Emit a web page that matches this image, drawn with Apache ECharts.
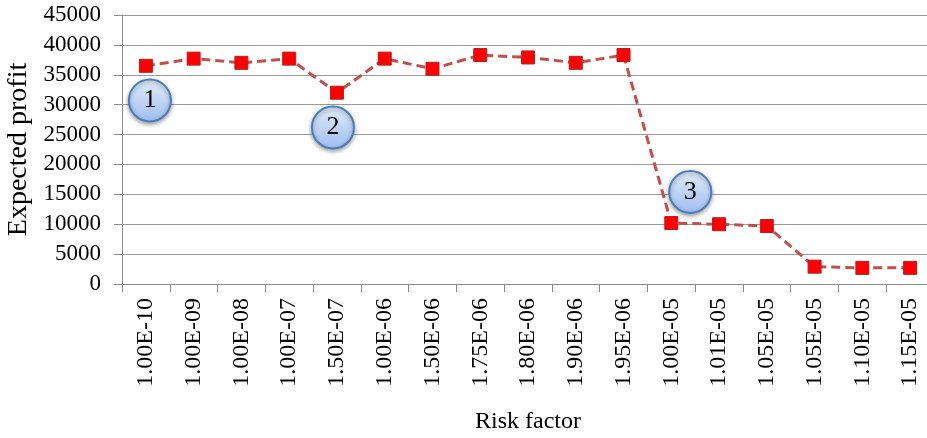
<!DOCTYPE html>
<html>
<head>
<meta charset="utf-8">
<script src="https://cdn.jsdelivr.net/npm/echarts@6/dist/echarts.min.js"></script>
<style>
  html, body { margin: 0; padding: 0; background: #fff; }
  #chart { width: 927px; height: 438px; }
</style>
</head>
<body>
<div id="chart"></div>
<script>
const riskFactors = ['1.00E-10', '1.00E-09', '1.00E-08', '1.00E-07', '1.50E-07', '1.00E-06', '1.50E-06', '1.75E-06',
  '1.80E-06', '1.90E-06', '1.95E-06', '1.00E-05', '1.01E-05', '1.05E-05', '1.05E-05', '1.10E-05', '1.15E-05'];
const expectedProfit = [36500, 37700, 37000, 37700, 32000, 37700, 36000, 38300,
  37900, 37000, 38300, 10200, 10000, 9700, 2900, 2700, 2700];
const yTicks = { min: 0, max: 45000, interval: 5000 };
// callouts: [category index, value, label]
const callouts = [[0, 30700, '1'], [4, 26200, '2'], [11, 15400, '3']];
const calloutShift = [4, -4, 19];

const serif = '"Liberation Serif", "Times New Roman", serif';
const chart = echarts.init(document.getElementById('chart'));

chart.setOption({
  backgroundColor: '#fff',
  animation: false,
  grid: { left: 122, right: -7, top: 15, bottom: 154, outerBoundsMode: 'none', containLabel: false },
  xAxis: {
    type: 'category',
    data: riskFactors,
    name: 'Risk factor',
    nameLocation: 'middle',
    nameGap: 126,
    nameTextStyle: { fontFamily: serif, fontSize: 24, color: '#000' },
    axisLine: { lineStyle: { color: '#8c8c8c', width: 1 } },
    axisTick: { show: true, length: 8, lineStyle: { color: '#8c8c8c' } },
    axisLabel: { rotate: 90, margin: 14, fontFamily: serif, fontSize: 24, color: '#000' }
  },
  yAxis: {
    type: 'value',
    min: yTicks.min,
    max: yTicks.max,
    interval: yTicks.interval,
    name: 'Expected profit',
    nameLocation: 'middle',
    nameGap: 85,
    nameTextStyle: { fontFamily: serif, fontSize: 28, color: '#000' },
    axisLine: { show: true, lineStyle: { color: '#8c8c8c', width: 1 } },
    axisTick: { show: true, length: 8, lineStyle: { color: '#8c8c8c' } },
    axisLabel: { margin: 21, fontFamily: serif, fontSize: 23, color: '#000', formatter: v => String(v) },
    splitLine: { lineStyle: { color: '#9a9a9a', width: 1 } }
  },
  series: [
    {
      type: 'line',
      data: expectedProfit,
      symbol: 'rect',
      symbolSize: 13,
      lineStyle: { color: '#c0504d', width: 3, type: [9, 5] },
      itemStyle: { color: '#ff0000', borderColor: '#b02020', borderWidth: 1 },
      markPoint: {
        symbol: 'circle',
        symbolSize: 42,
        data: callouts.map((c, i) => ({
          coord: [c[0], c[1]],
          value: c[2],
          symbolOffset: [calloutShift[i], 0]
        })),
        itemStyle: {
          color: {
            type: 'linear', x: 0, y: 0, x2: 0, y2: 1,
            colorStops: [
              { offset: 0, color: '#e4edfa' },
              { offset: 1, color: '#9dbdf0' }
            ]
          },
          borderColor: '#4a7ebb',
          borderWidth: 2,
          shadowColor: 'rgba(0,0,0,0.35)',
          shadowBlur: 4,
          shadowOffsetY: 2
        },
        label: {
          show: true,
          formatter: '{c}',
          fontFamily: serif,
          fontSize: 26,
          color: '#000'
        }
      }
    }
  ]
});
</script>
</body>
</html>
